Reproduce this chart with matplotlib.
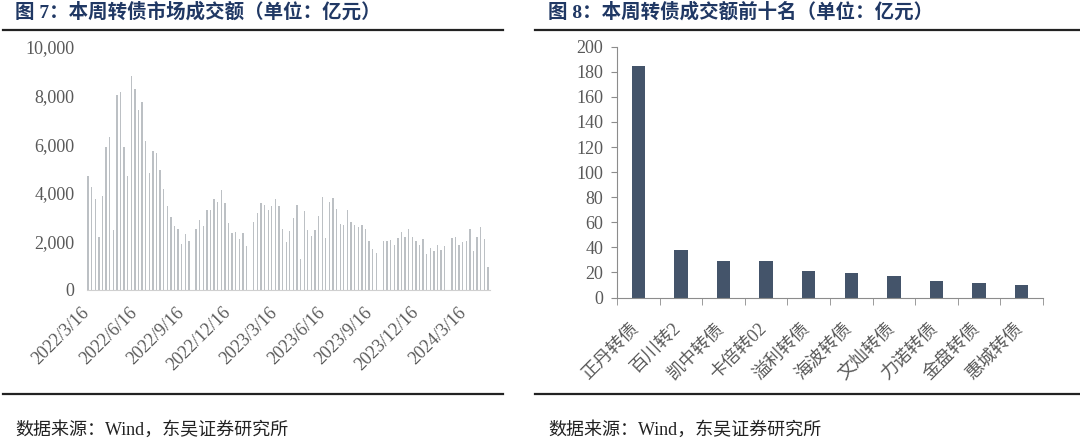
import numpy as np
import pandas as pd
import matplotlib
matplotlib.use('Agg')
import matplotlib.pyplot as plt
from matplotlib.lines import Line2D
from matplotlib.ticker import FuncFormatter
from matplotlib.transforms import ScaledTranslation

plt.rcParams['font.family'] = ['Liberation Serif', 'Noto Sans CJK SC', 'DejaVu Sans']

# ---- data: weekly turnover of the convertible bond market (100m CNY) ----
# holiday weeks (no trading) are left empty
nan = np.nan
week_start = '2022-03-18'
turnover = [
    4700, 4230, 3740, 2200, 3850, 5870, 6300, 2470, 8040, 8160,
    5880, 4700, 8820, 8270, 7420, 7730, 6140, 4810, 5720, 5640,
    4950, 4150, 3460, 3020, 2640, 2500, 1900, 2310, 2010, nan,
    2520, 2890, 2650, 3290, 3290, 3740, 3620, 4120, 3600, 2760,
    2360, 2400, 2100, 2360, 1830, nan,
    2780, 3180, 3570, 3490, 3300, 3460, 3750, 3460, 2500, 1990,
    2430, 2960, 3510, 1280, 3260, 2470, 2230, 2470, 3060, 3820,
    2130, 3640, 3780, 3350, 2710, 2680, 3300, 2790, 2690, 2590,
    2690, 2520, 2030, 1690, 1540, nan,
    2030, 2020, 2050, 1850, 2130, 2390, 2200, 2500, 2200, 2000,
    1870, 2100, 1490, 1730, 1620, 1860, 1630, 1810, nan,
    2140, 2170, 1840, 1960, 2030, 2520, 1590, 2170, 2600, 2100, 940,
]
date_ticks = ['2022-03-16', '2022-06-16', '2022-09-16', '2022-12-16',
              '2023-03-16', '2023-06-16', '2023-09-16', '2023-12-16',
              '2024-03-16']
date_tick_labels = ['2022/3/16', '2022/6/16', '2022/9/16', '2022/12/16',
                    '2023/3/16', '2023/6/16', '2023/9/16', '2023/12/16',
                    '2024/3/16']

# ---- data: top 10 bonds by weekly turnover (100m CNY) ----
bond_names = ['正丹转债', '百川转2', '凯中转债', '卡倍转02', '溢利转债',
              '海波转债', '文灿转债', '力诺转债', '金盘转债', '惠城转债']
bond_turnover = [185, 38, 29, 29, 21.5, 19.8, 17.1, 13.4, 11.5, 9.9]

title_left = '图 7：本周转债市场成交额（单位：亿元）'
title_right = '图 8：本周转债成交额前十名（单位：亿元）'
source_text = '数据来源：Wind，东吴证券研究所'

W, H = 1080, 440
title_color = '#203864'
label_color = '#595959'

fig = plt.figure(figsize=(W / 100, H / 100), dpi=100)

# ---------------- left panel ----------------
ax1 = fig.add_axes([87 / W, 1 - 290 / H, 403 / W, 243 / H])
dates = pd.date_range(week_start, periods=len(turnover), freq='7D')
ax1.bar(dates, turnover, width=2.6, color='#bcc0c4', linewidth=0)
ax1.set_ylim(0, 10000)
ax1.set_yticks(range(0, 10001, 2000))
ax1.yaxis.set_major_formatter(FuncFormatter(lambda v, p: f'{int(v):,}'))
ax1.set_xlim(dates[0] - pd.Timedelta(days=2), dates[-1] + pd.Timedelta(days=4))
ax1.set_xticks(pd.to_datetime(date_ticks))
ax1.set_xticklabels(date_tick_labels, rotation=45, ha='right')
for side in ['top', 'right', 'left']:
    ax1.spines[side].set_visible(False)
ax1.spines['bottom'].set_color('#d0d0d0')
ax1.tick_params(axis='y', length=0, pad=9, labelsize=13, labelcolor=label_color)
ax1.tick_params(axis='x', length=0, pad=10, labelsize=13, labelcolor=label_color)
shift = ScaledTranslation(6 / 100, 0, fig.dpi_scale_trans)
for lab in ax1.get_xticklabels():
    lab.set_transform(lab.get_transform() + shift)

# ---------------- right panel ----------------
ax2 = fig.add_axes([617 / W, 1 - 297.5 / H, 426 / W, 250.8 / H])
pos = np.arange(len(bond_names))
ax2.bar(pos, bond_turnover, width=0.31, color='#44546a', linewidth=0)
ax2.set_xlim(-0.5, len(bond_names) - 0.5)
ax2.set_ylim(0, 200)
ax2.set_yticks(range(0, 201, 20))
ax2.set_xticks(pos)
ax2.set_xticklabels(bond_names, rotation=45, ha='right')
ax2.set_xticks(np.arange(-0.5, len(bond_names)), minor=True)
for side in ['top', 'right']:
    ax2.spines[side].set_visible(False)
for side in ['left', 'bottom']:
    ax2.spines[side].set_color('#8c8c8c')
ax2.tick_params(axis='y', direction='out', length=4, color='#8c8c8c',
                pad=6, labelsize=13, labelcolor=label_color)
ax2.tick_params(axis='x', which='major', length=0, pad=16, labelsize=13,
                labelcolor=label_color)
ax2.tick_params(axis='x', which='minor', direction='out', length=5,
                color='#8c8c8c')
shift2 = ScaledTranslation(4 / 100, 0, fig.dpi_scale_trans)
for lab in ax2.get_xticklabels():
    lab.set_transform(lab.get_transform() + shift2)

# ---------------- titles, rules, sources ----------------
fig.text(15 / W, 1 - 11.5 / H, title_left, fontsize=14, fontweight='bold',
         color=title_color, va='center', ha='left')
fig.text(548 / W, 1 - 11.5 / H, title_right, fontsize=14, fontweight='bold',
         color=title_color, va='center', ha='left')
for x0, x1 in [(3, 503), (535, 1079)]:
    for yy in (30, 394):
        fig.add_artist(Line2D([x0 / W, x1 / W], [1 - yy / H, 1 - yy / H],
                              transform=fig.transFigure, color='#222222',
                              linewidth=1.6))
fig.text(15 / W, 1 - 430 / H, source_text, fontsize=13, color='#222222',
         va='center', ha='left')
fig.text(548 / W, 1 - 430 / H, source_text, fontsize=13, color='#222222',
         va='center', ha='left')

fig.savefig('out.png', dpi=100)
